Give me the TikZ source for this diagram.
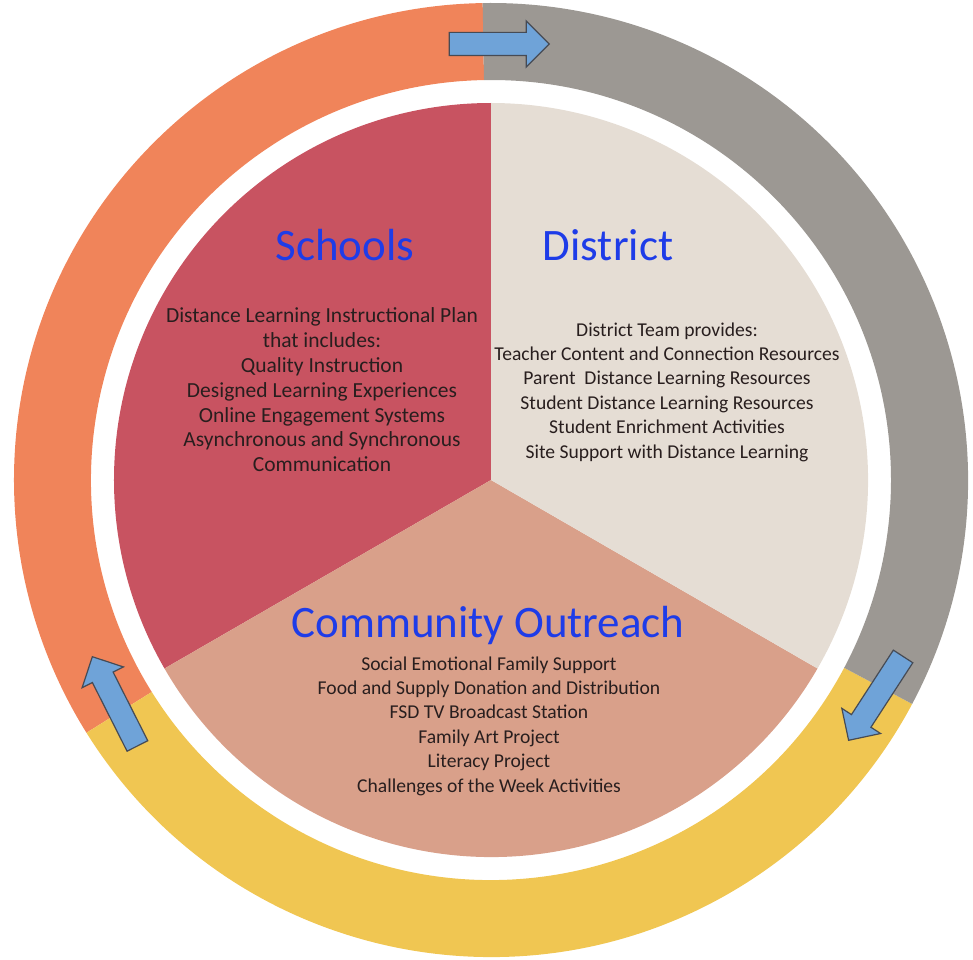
\documentclass[tikz,border=0pt]{standalone}
\usepackage{fontspec}
\setmainfont{Carlito}
\usetikzlibrary{shapes.arrows}
\definecolor{ringorange}{RGB}{240,132,90}
\definecolor{ringgray}{RGB}{156,152,147}
\definecolor{ringyellow}{RGB}{240,198,82}
\definecolor{schoolsred}{RGB}{200,83,97}
\definecolor{districtbeige}{RGB}{229,221,212}
\definecolor{communitysalmon}{RGB}{217,160,138}
\definecolor{arrowblue}{RGB}{111,163,216}
\definecolor{arrowedge}{RGB}{70,75,85}
\definecolor{titleblue}{RGB}{30,60,232}
\definecolor{bodytext}{RGB}{40,30,30}
\def\Rout{477}
\def\Rin{400}
\def\Rpie{377}
\tikzset{
  sectortitle/.style={text=titleblue, font=\fontsize{45}{50}\selectfont},
  sectortext/.style={text=bodytext, align=center, font=\fontsize{19.6}{24.4}\selectfont},
  turnarrow/.style={shape=single arrow, draw=arrowedge, fill=arrowblue, line width=1.2pt,
    inner sep=11pt, single arrow head extend=11.5pt, minimum height=100pt}
}
\begin{document}
\begin{tikzpicture}[x=1pt,y=1pt]
      \useasboundingbox (-491,-479) rectangle (482,480);
      % outer ring
      \fill[ringorange] (91:\Rout) arc[start angle=91, end angle=212, radius=\Rout pt]
        -- (212:\Rin) arc[start angle=212, end angle=91, radius=\Rin pt] -- cycle;
      \fill[ringyellow] (212:\Rout) arc[start angle=212, end angle=332, radius=\Rout pt]
        -- (332:\Rin) arc[start angle=332, end angle=212, radius=\Rin pt] -- cycle;
      \fill[ringgray] (332:\Rout) arc[start angle=332, end angle=451, radius=\Rout pt]
        -- (451:\Rin) arc[start angle=451, end angle=332, radius=\Rin pt] -- cycle;
      % pie
      \fill[schoolsred] (0,0) -- (90:\Rpie) arc[start angle=90, end angle=210, radius=\Rpie pt] -- cycle;
      \fill[communitysalmon] (0,0) -- (210:\Rpie) arc[start angle=210, end angle=330, radius=\Rpie pt] -- cycle;
      \fill[districtbeige] (0,0) -- (330:\Rpie) arc[start angle=330, end angle=450, radius=\Rpie pt] -- cycle;
      % arrows
      \node[turnarrow] (toparrow) at (2.5,436) {};
      \node[turnarrow, rotate=237] (rightarrow) at (388,-213.5) {};
      \node[turnarrow, rotate=116.8] (leftarrow) at (-373.5,-226.5) {};
      % labels
      \node[sectortitle] (schools) at (-146,235) {Schools};
      \node[sectortext, font=\fontsize{21.5}{24.8}\selectfont] (schoolsplan) at (-169,90)
        {Distance Learning Instructional Plan\\
        that includes:\\ Quality Instruction\\ Designed Learning Experiences\\
        Online Engagement Systems\\ Asynchronous and Synchronous\\ Communication};
      \node[sectortitle] (district) at (117,235) {District};
      \node[sectortext] (districtteam) at (176,88) {District Team provides:\\
        Teacher Content and Connection Resources\\ Parent~ Distance Learning Resources\\
        Student Distance Learning Resources\\ Student Enrichment Activities\\
        Site Support with Distance Learning};
      \node[sectortitle] (community) at (-3,-145) {Community Outreach};
      \node[sectortext] (communitylist) at (-2,-246) {Social Emotional Family Support\\
        Food and Supply Donation and Distribution\\ FSD TV Broadcast Station\\
        Family Art Project\\ Literacy Project\\ Challenges of the Week Activities};
    \end{tikzpicture}
\end{document}
